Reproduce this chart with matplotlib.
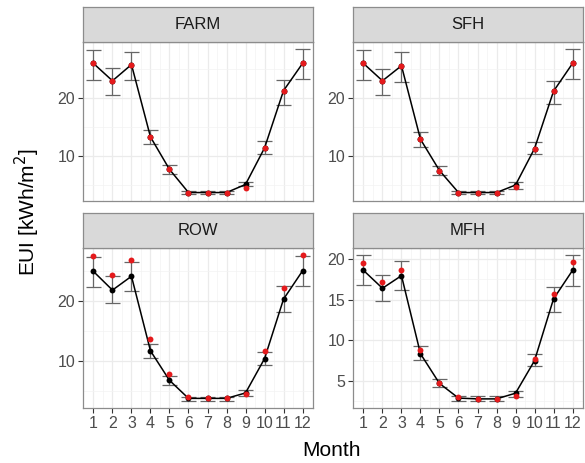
import numpy as np
import matplotlib
matplotlib.use("Agg")
import matplotlib.pyplot as plt

plt.rcParams['font.family'] = ['Liberation Sans', 'DejaVu Sans']

months = list(range(1, 13))
panels = ["FARM", "SFH", "ROW", "MFH"]

# simulated mean (black), measured (red), error bar bounds
farm_mean = [26.0, 23.0, 25.8, 13.3, 7.7, 3.7, 3.7, 3.7, 5.1, 11.4, 21.3, 26.0]
farm_meas = [26.0, 23.0, 25.8, 13.3, 7.7, 3.7, 3.7, 3.7, 4.4, 11.4, 21.3, 26.0]
farm_lo = [23.2, 20.6, 23.1, 12.0, 6.9, 3.4, 3.4, 3.4, 4.8, 10.4, 18.9, 23.3]
farm_hi = [28.3, 25.2, 28.0, 14.5, 8.4, 4.0, 4.0, 4.0, 5.5, 12.6, 23.1, 28.5]

sfh_mean = [26.0, 23.0, 25.6, 12.9, 7.5, 3.7, 3.7, 3.7, 5.0, 11.3, 21.2, 26.0]
sfh_meas = [26.0, 23.0, 25.6, 12.9, 7.5, 3.7, 3.7, 3.7, 4.6, 11.3, 21.2, 26.0]
sfh_lo = [23.2, 20.6, 22.8, 11.6, 6.7, 3.4, 3.4, 3.4, 4.3, 10.3, 19.0, 23.3]
sfh_hi = [28.3, 25.1, 28.0, 14.1, 8.3, 4.0, 4.0, 4.0, 5.6, 12.5, 23.0, 28.5]

row_mean = [24.9, 21.8, 24.1, 11.7, 6.8, 3.8, 3.8, 3.8, 4.7, 10.4, 20.3, 25.0]
row_meas = [27.5, 24.3, 26.8, 13.6, 7.8, 4.1, 3.9, 3.9, 4.6, 11.7, 22.2, 27.7]
row_lo = [22.3, 19.7, 21.7, 10.5, 6.1, 3.4, 3.4, 3.4, 4.2, 9.4, 18.2, 22.5]
row_hi = [27.3, 24.1, 26.5, 12.8, 7.5, 4.1, 4.1, 4.1, 5.2, 11.5, 22.4, 27.5]

mfh_mean = [18.6, 16.4, 17.95, 8.35, 4.7, 2.9, 2.8, 2.8, 3.5, 7.5, 15.1, 18.6]
mfh_meas = [19.5, 17.2, 18.7, 8.85, 4.75, 3.0, 2.8, 2.8, 3.2, 7.75, 15.7, 19.6]
mfh_lo = [16.8, 14.8, 16.2, 7.6, 4.25, 2.6, 2.5, 2.5, 3.0, 6.9, 13.5, 16.7]
mfh_hi = [20.45, 18.0, 19.75, 9.25, 5.25, 3.2, 3.1, 3.1, 3.8, 8.35, 16.5, 20.45]

data = {
    "FARM": (farm_mean, farm_meas, farm_lo, farm_hi),
    "SFH": (sfh_mean, sfh_meas, sfh_lo, sfh_hi),
    "ROW": (row_mean, row_meas, row_lo, row_hi),
    "MFH": (mfh_mean, mfh_meas, mfh_lo, mfh_hi),
}
ylims = {"FARM": (2.24, 29.7), "SFH": (2.24, 29.7), "ROW": (2.2, 28.8), "MFH": (1.68, 21.35)}
yticks = {"FARM": [10, 20], "SFH": [10, 20], "ROW": [10, 20], "MFH": [5, 10, 15, 20]}

W, H = 585, 463
fig = plt.figure(figsize=(W / 100, H / 100), dpi=100)

# pixel boxes: (left, right, strip_top, panel_top, panel_bottom)
boxes = {
    "FARM": (83, 313, 7, 42, 201),
    "SFH": (353, 583, 7, 42, 201),
    "ROW": (83, 313, 213, 248, 408),
    "MFH": (353, 583, 213, 248, 408),
}

text_grey = "#4D4D4D"
border = "#8C8C8C"

for name in panels:
    l, r, st, pt, pb = boxes[name]
    ax = fig.add_axes([l / W, 1 - pb / H, (r - l) / W, (pb - pt) / H])
    mean, meas, lo, hi = data[name]
    m = np.array(months)
    ax.vlines(m, lo, hi, color="#666666", lw=0.9, zorder=2)
    ax.hlines(lo, m - 0.4, m + 0.4, color="#666666", lw=0.9, zorder=2)
    ax.hlines(hi, m - 0.4, m + 0.4, color="#666666", lw=0.9, zorder=2)
    ax.plot(m, mean, color="black", lw=1.1, zorder=3)
    ax.scatter(m, mean, color="black", s=18, zorder=4, linewidths=0)
    ax.scatter(m, meas, color="#E41A1C", s=18, zorder=5, linewidths=0)

    ax.set_xlim(0.45, 12.55)
    ax.set_ylim(*ylims[name])
    ax.set_xticks(months)
    ax.set_xticks(np.arange(1.5, 12.5, 1), minor=True)
    yt = yticks[name]
    ax.set_yticks(yt)
    step = yt[1] - yt[0]
    ax.set_yticks(np.arange(yt[0] - step / 2, ylims[name][1], step), minor=True)
    ax.grid(True, which="major", color="#EBEBEB", lw=0.9, zorder=0)
    ax.grid(True, which="minor", color="#F3F3F3", lw=0.5, zorder=0)
    ax.set_axisbelow(True)
    for s in ax.spines.values():
        s.set_color(border)
        s.set_linewidth(0.9)
    ax.tick_params(which="major", length=3.5, pad=2, color="#333333", labelcolor=text_grey,
                   labelsize=11.5)
    ax.tick_params(which="minor", length=0)
    if name in ("FARM", "SFH"):
        ax.tick_params(axis="x", which="major", length=0, labelbottom=False)

    sax = fig.add_axes([l / W, 1 - pt / H, (r - l) / W, (pt - st) / H])
    sax.set_xticks([])
    sax.set_yticks([])
    sax.set_facecolor("#D9D9D9")
    for s in sax.spines.values():
        s.set_color(border)
        s.set_linewidth(0.9)
    sax.text(0.5, 0.5, name, ha="center", va="center", fontsize=12, color="#1A1A1A",
             transform=sax.transAxes)

fig.text(27 / W, 1 - 212 / H, "EUI [kWh/m$^2$]", rotation=90, ha="center", va="center",
         fontsize=15, color="black")
fig.text(332 / W, 1 - 451 / H, "Month", ha="center", va="center", fontsize=15, color="black")

fig.savefig("out.png", dpi=100)
